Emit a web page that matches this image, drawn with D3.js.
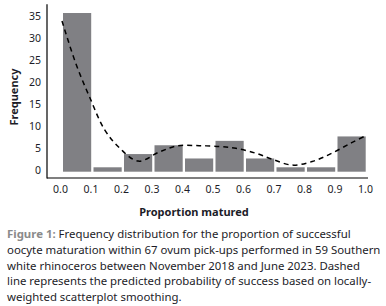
<!DOCTYPE html>
<html>
<head>
<meta charset="utf-8">
<script src="https://cdn.jsdelivr.net/npm/d3@7/dist/d3.min.js"></script>
<style>
  body { margin: 0; background: #fff; }
  svg text { font-family: "Noto Sans", "Open Sans", sans-serif; fill: #1c1c28; }
</style>
</head>
<body>
<div id="chart"></div>
<script>
// bins of proportion matured (left edges) and counts
var binStart = [0.0, 0.1, 0.2, 0.3, 0.4, 0.5, 0.6, 0.7, 0.8, 0.9];
var counts = [36, 1, 4, 6, 3, 7, 3, 1, 1, 8];

// loess curve
var loessX = [0, 0.045, 0.09, 0.14, 0.19, 0.25, 0.32, 0.38, 0.45, 0.52, 0.57, 0.635, 0.69, 0.755, 0.82, 0.885, 0.95, 1.0];
var loessY = [34.2, 24.6, 17, 9.5, 5.3, 2.4, 4.5, 5.9, 5.9, 5.7, 5.3, 4.2, 2.8, 1.5, 2.3, 4.2, 6.6, 8.3];

var xTicks = [0, 0.1, 0.2, 0.3, 0.4, 0.5, 0.6, 0.7, 0.8, 0.9, 1.0];
var yTicks = [0, 5, 10, 15, 20, 25, 30, 35];

var captionLines = [
    "oocyte maturation within 67 ovum pick-ups performed in 59 Southern",
    "white rhinoceros between November 2018 and June 2023. Dashed",
    "line represents the predicted probability of success based on locally-",
    "weighted scatterplot smoothing."
];

var width = 386, height = 306;

var svg = d3.select("#chart")
    .append("svg")
    .attr("width", width)
    .attr("height", height);

var x = d3.scaleLinear().domain([0, 1]).range([62, 367]);
var y = d3.scaleLinear().domain([0, 38]).range([171.7, 4.2]);

//bars
svg.selectAll(null)
    .data(binStart)
    .enter()
    .append("rect")
    .attr("x", function (d) { return x(d) + 1; })
    .attr("width", function (d) { return x(d + 0.1) - x(d) - 2.3; })
    .attr("y", function (d, i) { return y(counts[i]); })
    .attr("height", function (d, i) { return y(0) - y(counts[i]); })
    .attr("fill", "#808084");

//dashed loess line
var line = d3.line()
    .x(function (d) { return x(d[0]); })
    .y(function (d) { return y(d[1]); })
    .curve(d3.curveCatmullRom);

svg.append("path")
    .datum(d3.zip(loessX, loessY))
    .attr("d", line)
    .attr("fill", "none")
    .attr("stroke", "#000")
    .attr("stroke-width", 1.5)
    .attr("stroke-dasharray", "5,4");

//axis lines
svg.append("line")
    .attr("x1", 47).attr("x2", 47)
    .attr("y1", 4.2).attr("y2", 178.5)
    .attr("stroke", "#000").attr("stroke-width", 1.2);
svg.append("line")
    .attr("x1", 47).attr("x2", 368)
    .attr("y1", 178).attr("y2", 178)
    .attr("stroke", "#000").attr("stroke-width", 1.2);

//x axis labels
var xAxis = svg.append("g")
    .attr("transform", "translate(-2,183)")
    .call(d3.axisBottom(x).tickValues(xTicks).tickSize(0).tickFormat(d3.format(".1f")));
xAxis.select(".domain").remove();
xAxis.selectAll("text")
    .attr("dy", "0.71em")
    .style("font-size", "10.5px");

//y axis labels
var yAxis = svg.append("g")
    .attr("transform", "translate(41,-1.7)")
    .call(d3.axisLeft(y).tickValues(yTicks).tickSize(0));
yAxis.select(".domain").remove();
yAxis.selectAll("text")
    .attr("x", 0)
    .style("font-size", "10.5px");

// axis titles
svg.append("text")
    .attr("x", 194).attr("y", 216)
    .attr("text-anchor", "middle")
    .style("font-size", "11px")
    .style("font-weight", "bold")
    .text("Proportion matured");

svg.append("text")
    .attr("transform", "translate(18,97) rotate(-90)")
    .attr("text-anchor", "middle")
    .style("font-size", "11px")
    .style("font-weight", "bold")
    .text("Frequency");

// caption
var cap = svg.append("text")
    .attr("x", 7).attr("y", 238)
    .style("font-size", "11.4px");
cap.append("tspan")
    .style("font-weight", "bold")
    .style("fill", "#8a8a8a")
    .text("Figure 1: ");
cap.append("tspan")
    .text("Frequency distribution for the proportion of successful");

svg.selectAll(null)
    .data(captionLines)
    .enter()
    .append("text")
    .attr("x", 7)
    .attr("y", function (d, i) { return 254 + i * 15.6; })
    .style("font-size", "11.4px")
    .text(function (d) { return d; });
</script>
</body>
</html>
